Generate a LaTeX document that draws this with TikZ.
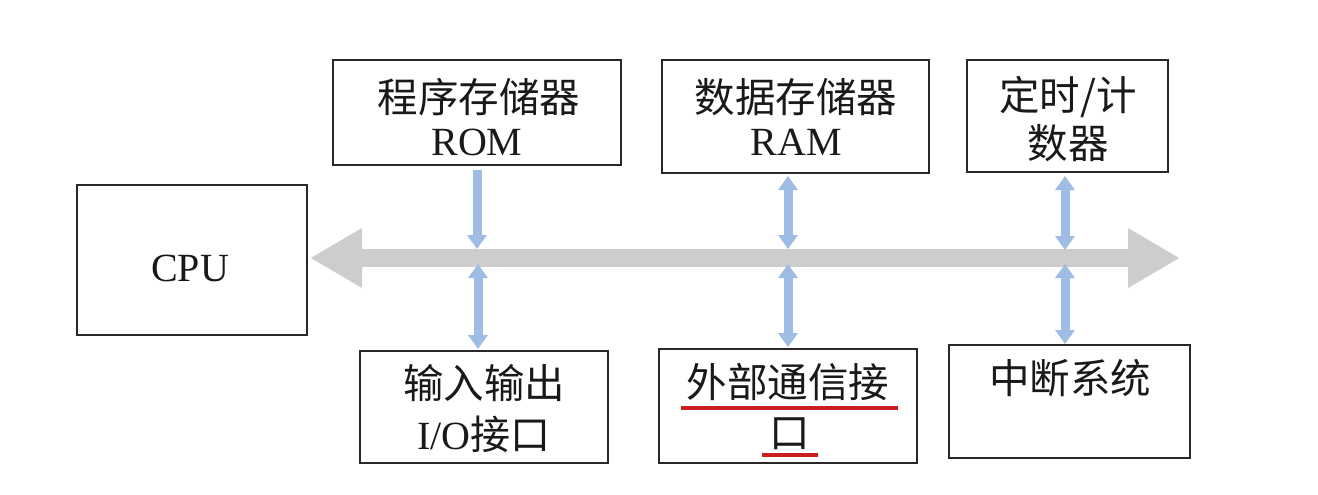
\documentclass[tikz,border=0pt]{standalone}
\usepackage{fontspec}
\setmainfont{Liberation Serif}
\newfontfamily\cjk{Noto Sans CJK SC}
\usetikzlibrary{arrows.meta}
\definecolor{busgray}{RGB}{205,205,205}
\definecolor{bluearr}{RGB}{158,188,228}
\definecolor{boxline}{RGB}{40,40,40}
\definecolor{ulred}{RGB}{200,30,30}
\tikzset{
  box/.style={draw=boxline, line width=1.6pt, rectangle, inner sep=0pt},
  lbl/.style={inner sep=0pt, font=\fontsize{40}{44}\selectfont, text=black!90},
  cn/.style={inner sep=0pt, font=\fontsize{40.5}{44}\selectfont\cjk, text=black!90},
  bus/.style={draw=busgray, line width=18pt, {Triangle[width=56pt,length=52pt]}-{Triangle[width=56pt,length=52pt]}},
  oneway/.style={draw=bluearr, line width=9pt, -{Triangle[width=19pt,length=14pt]}},
  twoway/.style={draw=bluearr, line width=9pt, {Triangle[width=19pt,length=14pt]}-{Triangle[width=19pt,length=14pt]}},
  uline/.style={draw=ulred, line width=3.4pt}
}
\begin{document}
\begin{tikzpicture}[x=1pt,y=-1pt]
\useasboundingbox (0,0) rectangle (1318,495);
% boxes
\node[box, minimum width=288pt, minimum height=105pt] (rom) at (477,112.5) {};
\node[box, minimum width=267pt, minimum height=113pt] (ram) at (795.5,116.5) {};
\node[box, minimum width=201pt, minimum height=112pt] (tim) at (1067.5,116) {};
\node[box, minimum width=230pt, minimum height=150pt] (cpu) at (192,260) {};
\node[box, minimum width=248pt, minimum height=112pt] (io) at (484,407) {};
\node[box, minimum width=258pt, minimum height=114pt] (ext) at (788,406) {};
\node[box, minimum width=241pt, minimum height=113pt] (irq) at (1069.5,401.5) {};
% texts
\node[cn] (romt1) at (479,97) {程序存储器};
\node[lbl] (romt2) at (477,142) {ROM};
\node[cn] (ramt1) at (796,97) {数据存储器};
\node[lbl] (ramt2) at (796,142) {RAM};
\node[cn] (timt1) at (1068,97) {定时/计};
\node[cn] (timt2) at (1068,143) {数器};
\node[lbl] (cput) at (190,268) {CPU};
\node[cn] (iot1) at (484,383) {输入输出};
\node[lbl] (iot2) at (484,434) {I/O{\cjk 接口}};
\node[cn] (extt1) at (788,382) {外部通信接};
\node[cn] (extt2) at (790,434) {口};
\node[cn] (irqt) at (1070,378) {中断系统};
% underlines
\coordinate (u1a) at (681,408); \coordinate (u1b) at (898,408);
\coordinate (u2a) at (762,455); \coordinate (u2b) at (818,455);
\draw[uline] (u1a) -- (u1b);
\draw[uline] (u2a) -- (u2b);
% bus
\coordinate (busL) at (310,258);
\coordinate (busR) at (1180,258);
\draw[bus] (busL) -- (busR);
% bus taps
\coordinate (romT) at (477,170);
\coordinate (romB) at (477,249);
\coordinate (ioB) at (478,264);
\coordinate (ioT) at (478,349);
\coordinate (ramT) at (788,176);
\coordinate (ramB) at (788,249);
\coordinate (extB) at (788,264);
\coordinate (extT) at (788,347);
\coordinate (timT) at (1065,176);
\coordinate (timB) at (1065,250);
\coordinate (irqB) at (1065,264);
\coordinate (irqT) at (1065,344);
\draw[oneway] (romT) -- (romB);
\draw[twoway] (ioB) -- (ioT);
\draw[twoway] (ramT) -- (ramB);
\draw[twoway] (extB) -- (extT);
\draw[twoway] (timT) -- (timB);
\draw[twoway] (irqB) -- (irqT);
\end{tikzpicture}
\end{document}
